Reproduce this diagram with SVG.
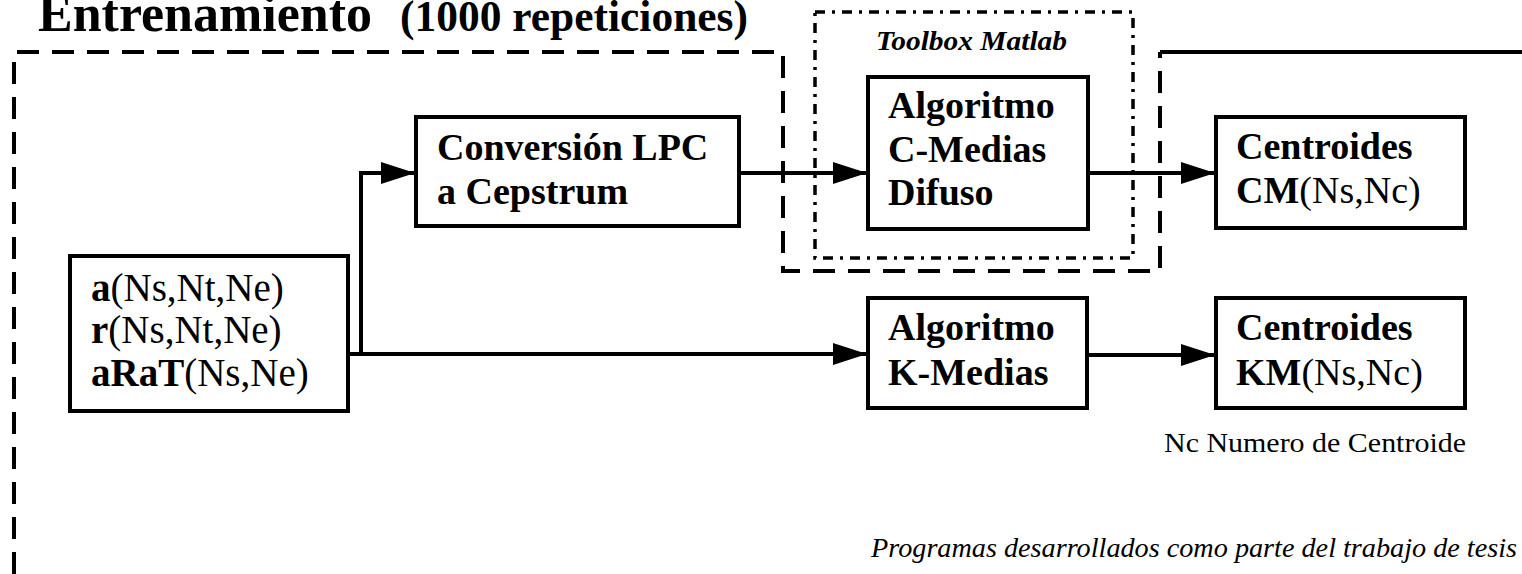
<svg xmlns="http://www.w3.org/2000/svg" width="1522" height="574" viewBox="0 0 1522 574">
<style>
.box{fill:none;stroke:#000;stroke-width:4}
.ln{fill:none;stroke:#000;stroke-width:4}
.dash{fill:none;stroke:#000;stroke-width:4;stroke-dasharray:22 13}
.dashdot{fill:none;stroke:#000;stroke-width:3.5;stroke-dasharray:10 7 3 7}
.t{font-family:"Liberation Serif","Times New Roman",serif;font-size:38px;fill:#000}
.b{font-weight:bold}
.r{font-weight:normal}
</style>
<defs>
<marker id="arr" markerUnits="userSpaceOnUse" markerWidth="34" markerHeight="22" refX="33" refY="11" orient="auto">
<path d="M0,0 L34,11 L0,22 Z" fill="#000"/>
</marker>
</defs>
<rect width="1522" height="574" fill="#fff"/>
<g id="title">
<text x="38" y="31" class="t b" style="font-size:53px" textLength="334" lengthAdjust="spacingAndGlyphs">Entrenamiento</text>
<text x="400" y="31" class="t b" style="font-size:44px" textLength="348" lengthAdjust="spacingAndGlyphs">(1000 repeticiones)</text>
</g>
<g id="regions">
<path class="dash" d="M14,574 V52 H783 V271 H1160 V52"/>
<path class="ln" d="M1160,52 H1522"/>
<rect class="dashdot" x="815" y="12" width="318" height="246"/>
<text x="876" y="50" class="t b" style="font-size:28px;font-style:italic" textLength="191" lengthAdjust="spacingAndGlyphs">Toolbox Matlab</text>
</g>
<g id="connectors">
<path class="ln" d="M348,354 H361 V173 H414" marker-end="url(#arr)"/>
<path class="ln" d="M361,354 H866" marker-end="url(#arr)"/>
<path class="ln" d="M740,173 H866" marker-end="url(#arr)"/>
<path class="ln" d="M1088,173 H1214" marker-end="url(#arr)"/>
<path class="ln" d="M1087,355 H1214" marker-end="url(#arr)"/>
</g>
<g id="input">
<rect class="box" x="70" y="256" width="278" height="155"/>
<text x="91" y="301" class="t r" style="font-size:39px"><tspan class="b">a</tspan>(Ns,Nt,Ne)</text>
<text x="91" y="343" class="t r" style="font-size:39px"><tspan class="b">r</tspan>(Ns,Nt,Ne)</text>
<text x="91" y="386" class="t r" style="font-size:39px"><tspan class="b">aRaT</tspan>(Ns,Ne)</text>
</g>
<g id="lpc">
<rect class="box" x="416" y="117" width="323" height="109"/>
<text x="437" y="160" class="t b">Conversión LPC</text>
<text x="437" y="204" class="t b">a Cepstrum</text>
</g>
<g id="cmedias">
<rect class="box" x="868" y="77" width="220" height="152"/>
<text x="888" y="118" class="t b">Algoritmo</text>
<text x="888" y="162" class="t b">C-Medias</text>
<text x="888" y="205" class="t b">Difuso</text>
</g>
<g id="cm">
<rect class="box" x="1216" y="117" width="249" height="111"/>
<text x="1236" y="159" class="t b">Centroides</text>
<text x="1236" y="203" class="t r"><tspan class="b">CM</tspan>(Ns,Nc)</text>
</g>
<g id="kmedias">
<rect class="box" x="868" y="298" width="219" height="110"/>
<text x="888" y="340" class="t b">Algoritmo</text>
<text x="888" y="385" class="t b">K-Medias</text>
</g>
<g id="km">
<rect class="box" x="1216" y="298" width="249" height="110"/>
<text x="1236" y="340" class="t b">Centroides</text>
<text x="1236" y="385" class="t r"><tspan class="b">KM</tspan>(Ns,Nc)</text>
</g>
<g id="notes">
<text x="1164" y="452" class="t r" style="font-size:28px" textLength="302" lengthAdjust="spacingAndGlyphs">Nc Numero de Centroide</text>
<text x="871" y="557" class="t r" style="font-size:28px;font-style:italic" textLength="646" lengthAdjust="spacingAndGlyphs">Programas desarrollados como parte del trabajo de tesis</text>
</g>
</svg>
